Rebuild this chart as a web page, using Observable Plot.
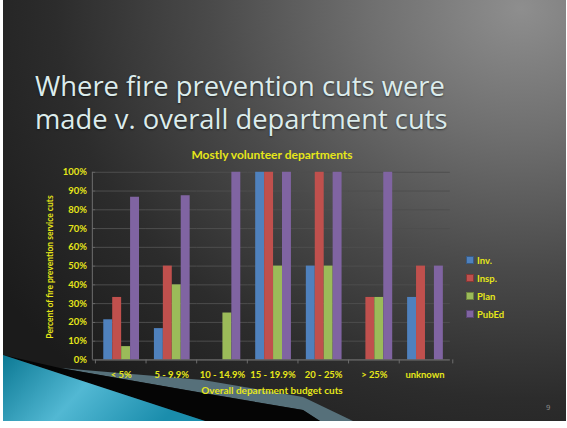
<!DOCTYPE html>
<html>
<head>
<meta charset="utf-8">
<script src="https://cdn.jsdelivr.net/npm/d3@7"></script>
<script src="https://cdn.jsdelivr.net/npm/@observablehq/plot@0.6"></script>
<style>
  html, body { margin: 0; padding: 0; background: #fff; width: 567px; height: 428px; overflow: hidden; }
  #slide { position: absolute; left: 3px; top: 0; width: 563px; height: 421px; overflow: hidden;
    background: radial-gradient(ellipse 620px 520px at 92% 2%, #8e8e8e 0%, #6e6e6e 25%, #4a4a4a 50%, #2c2c2c 75%, #1b1b1b 100%); }
  #deco { position: absolute; left: 0; top: 0; }
  #chart { position: absolute; left: -3px; top: 0; }
  .abs { position: absolute; white-space: nowrap; }
  #title { left: 32px; top: 69px; color: #dcecec; font-family: "Open Sans", sans-serif; font-size: 30px; line-height: 33px;
    white-space: pre-line; text-shadow: 0 1px 2px rgba(0,0,0,0.5); }
  .ytxt { color: #e6e619; font-family: Lato, sans-serif; font-weight: bold; }
  #ctitle { font-size: 12px; left: 272px; top: 147px; transform: translateX(-50%); }
  #xtitle { font-size: 10px; left: 272px; top: 384px; transform: translateX(-50%); }
  #ytitle { font-size: 8.5px; left: 50px; top: 267px; transform: translate(-50%, -50%) rotate(-90deg); }
  #legend { left: 466px; top: 251px; }
  .li { height: 18px; display: flex; align-items: center; font-size: 9.5px; }
  .sw { width: 6px; height: 6px; margin-right: 3px; border: 0.5px solid rgba(0,0,0,0.3); }
  #pnum { left: 546px; top: 404px; font-size: 7px; color: #888; font-family: "DejaVu Sans", sans-serif; }
  #measure { position: absolute; visibility: hidden; font-family: "Open Sans", sans-serif; font-size: 30px; white-space: nowrap; }
</style>
</head>
<body>
<div id="slide">
  <svg id="deco" width="563" height="421">
    <defs>
      <linearGradient id="teal" x1="0" y1="0" x2="1" y2="0.3">
        <stop offset="0" stop-color="#0c7994"/>
        <stop offset="0.5" stop-color="#52b8d3"/>
        <stop offset="1" stop-color="#1a8dac"/>
      </linearGradient>
    </defs>
  </svg>
  <div id="title" class="abs"></div>
</div>
<div id="ctitle" class="abs ytxt">Mostly volunteer departments</div>
<div id="xtitle" class="abs ytxt">Overall department budget cuts</div>
<div id="ytitle" class="abs ytxt">Percent of fire prevention service cuts</div>
<div id="legend" class="abs ytxt"></div>
<div id="pnum" class="abs">9</div>
<span id="measure"></span>
<script>
// ---- data ----
const titleLines = ["Where fire prevention cuts were", "made v. overall department cuts"];
const categories = ["< 5%", "5 - 9.9%", "10 - 14.9%", "15 - 19.9%", "20 - 25%", "> 25%", "unknown"];
const series = ["Inv.", "Insp.", "Plan", "PubEd"];
const inv   = [0.214, 0.167, 0,    1,   0.5, 0,     0.333];
const insp  = [0.333, 0.5,   0,    1,   1,   0.333, 0.5];
const plan  = [0.071, 0.4,   0.25, 0.5, 0.5, 0.333, 0];
const pubEd = [0.867, 0.875, 1,    1,   1,   1,     0.5];
const yTicks = [0, 0.1, 0.2, 0.3, 0.4, 0.5, 0.6, 0.7, 0.8, 0.9, 1];
const colors = ["#4f81bd", "#c0504d", "#9bbb59", "#8064a2"];

const seriesValues = [inv, insp, plan, pubEd];
const rows = categories.flatMap((c, i) => series.map((s, j) => ({category: c, series: s, value: seriesValues[j][i]})));

// ---- slide title (single text node, two lines) ----
const measure = document.getElementById("measure");
measure.textContent = titleLines[0];
const mw = measure.getBoundingClientRect().width;
measure.remove();
const titleEl = document.getElementById("title");
titleEl.style.fontSize = (30 * 410 / mw).toFixed(2) + "px";
titleEl.textContent = titleLines.join("\n");

// ---- decoration (bottom-left slide ornament) ----
const deco = d3.select("#deco");
deco.append("polygon").attr("points", "57,368 200,380 300,397 350,421 317,421 300,410 200,393").attr("fill", "#56707a");
deco.append("polygon").attr("points", "0,355 57,368 200,393 300,410 317,421 202,421").attr("fill", "#050505");
deco.append("polygon").attr("points", "0,355 202,421 0,421").attr("fill", "url(#teal)");

// ---- chart ----
const W = 567, H = 428, ML = 93, MR = 111, MT = 173, MB = 66;
const step = (W - ML - MR) / categories.length;
const YELLOW = "#e6e619";
const AXIS = "#6e6e6e";

const chart = Plot.plot({
  width: W, height: H,
  marginLeft: ML, marginRight: MR, marginTop: MT, marginBottom: MB,
  style: {background: "transparent", color: YELLOW, fontFamily: "Lato, sans-serif", fontSize: "9.5px", fontWeight: "bold", overflow: "visible"},
  fx: {domain: categories, padding: 0, label: null},
  x: {domain: series, paddingInner: 0, paddingOuter: 0.73, axis: null},
  y: {domain: [0, 1], label: null},
  color: {domain: series, range: colors},
  marks: [
    Plot.gridY(yTicks, {stroke: "#4e4e4e", strokeOpacity: 1}),
    Plot.axisY(yTicks, {tickFormat: d3.format(".0%"), tickSize: 3, tickPadding: 6, stroke: AXIS, label: null}),
    Plot.barY(rows, {fx: "category", x: "series", y: "value", fill: "series"}),
    Plot.ruleY([0], {stroke: AXIS}),
    Plot.axisFx({anchor: "bottom", tickSize: 0, tickPadding: 11, label: null}),
    Plot.axisFx({anchor: "bottom", tickSize: 4, tickFormat: () => "", dx: -step / 2, stroke: AXIS, label: null})
  ]
});
chart.id = "chart";
d3.select(chart).append("line")
  .attr("x1", ML).attr("x2", ML).attr("y1", MT).attr("y2", H - MB)
  .attr("stroke", AXIS);
d3.select(chart).append("line")
  .attr("x1", W - MR).attr("x2", W - MR).attr("y1", H - MB).attr("y2", H - MB + 4)
  .attr("stroke", AXIS);
document.getElementById("slide").appendChild(chart);

// ---- legend ----
const legend = d3.select("#legend");
series.forEach((s, i) => {
  const li = legend.append("div").attr("class", "li");
  li.append("div").attr("class", "sw").style("background", colors[i]);
  li.append("span").text(s);
});
</script>
</body>
</html>
